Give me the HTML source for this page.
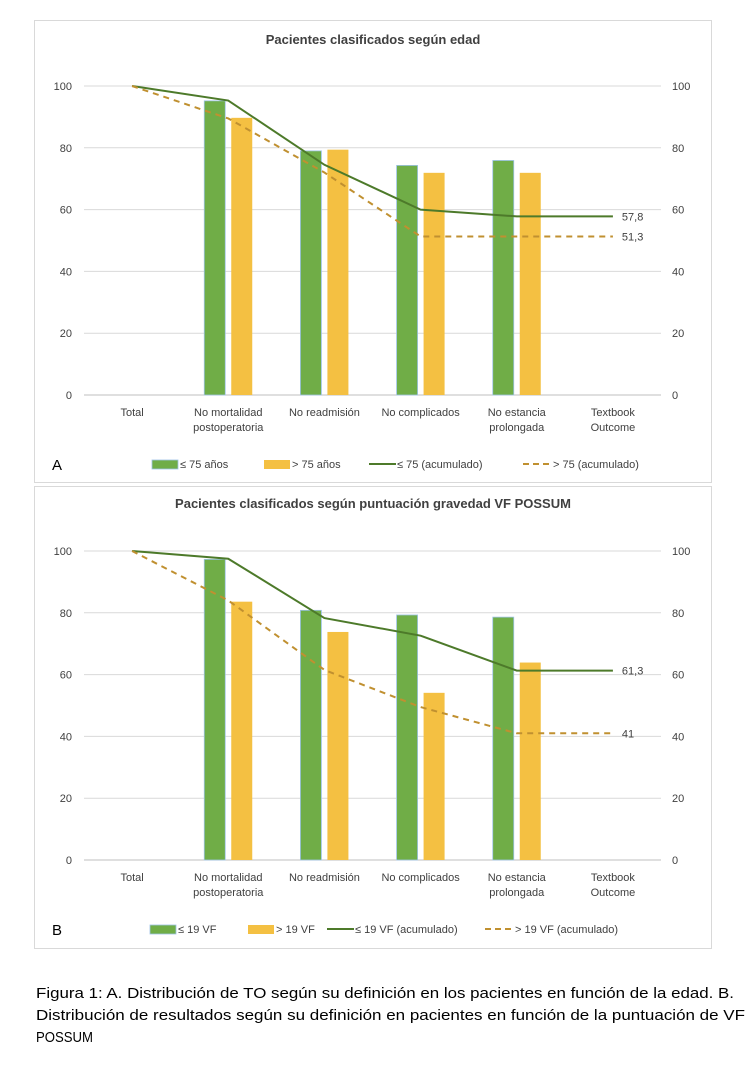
<!DOCTYPE html>
<html><head><meta charset="utf-8"><style>
body{margin:0;background:#fff;}
svg text{font-family:"Liberation Sans",sans-serif;}
</style></head><body>
<svg id="fig" width="750" height="1067" xmlns="http://www.w3.org/2000/svg">
<rect x="34.5" y="20.5" width="677" height="462" fill="#fff" stroke="#d9d9d9"/>
<rect x="34.5" y="486.5" width="677" height="462" fill="#fff" stroke="#d9d9d9"/>
<g font-size="15" fill="#000">
<text x="36" y="998" textLength="698" lengthAdjust="spacingAndGlyphs">Figura 1: A. Distribución de TO según su definición en los pacientes en función de la edad. B.</text>
<text x="36" y="1020" textLength="709" lengthAdjust="spacingAndGlyphs">Distribución de resultados según su definición en pacientes en función de la puntuación de VF</text>
<text x="36" y="1042" textLength="57" lengthAdjust="spacingAndGlyphs">POSSUM</text>
</g>
</svg>
<script>
const categories=["Total","No mortalidad|postoperatoria","No readmisión","No complicados","No estancia|prolongada","Textbook|Outcome"];
const yTicks=[0,20,40,60,80,100];
const aGreenBars=[null,95.2,79.0,74.3,75.9,null];
const aYellowBars=[null,89.7,79.4,71.9,71.9,null];
const aGreenLine=[100,95.3,74.5,60.0,57.8,57.8];
const aYellowLine=[100,89.5,72.0,51.3,51.3,51.3];
const bGreenBars=[null,97.3,80.8,79.3,78.6,null];
const bYellowBars=[null,83.6,73.8,54.1,63.9,null];
const bGreenLine=[100,97.5,78.3,72.6,61.3,61.3];
const bYellowLine=[100,84.0,61.5,49.5,41.0,41.0];
const NS="http://www.w3.org/2000/svg";
const svg=document.getElementById('fig');
function mk(tag,attrs,parent){const e=document.createElementNS(NS,tag);for(const k in attrs)e.setAttribute(k,attrs[k]);(parent||svg).appendChild(e);return e;}
function panel(p){
 const g=mk('g',{});
 
 
 const x0=84,x1=661,step=(x1-x0)/categories.length;
 const xc=i=>x0+step*(i+0.5);
 const y=v=>p.yBase-(v/100)*(p.yBase-p.yTop);
 const t=mk('text',{x:373,y:p.titleY,'text-anchor':'middle','font-size':13,'font-weight':'bold',fill:'#404040'},g);
 t.textContent=p.title;
 yTicks.forEach(v=>{
  const l=mk('line',{x1:x0,x2:x1,y1:y(v),y2:y(v),stroke:v===0?'#bfbfbf':'#d9d9d9'},g);
  
  const a=mk('text',{x:72,y:y(v)+4,'text-anchor':'end','font-size':11,fill:'#404040'},g);a.textContent=v;
  
  const b=mk('text',{x:672,y:y(v)+4,'font-size':11,fill:'#404040'},g);b.textContent=v;
  
 });
 categories.forEach((c,i)=>{
  c.split('|').forEach((s,j)=>{
   const tx=mk('text',{x:xc(i),y:p.yBase+21+j*15,'text-anchor':'middle','font-size':11,fill:'#404040'},g);tx.textContent=s;
   
  });
 });
 const bw=21;
 p.gb.forEach((v,i)=>{if(v==null)return;
  const r=mk('rect',{x:xc(i)-bw-3,y:y(v),width:bw,height:y(0)-y(v),fill:'#70ad47',stroke:'#9dc3e6','stroke-width':0.8},g);
  });
 p.yb.forEach((v,i)=>{if(v==null)return;
  const r=mk('rect',{x:xc(i)+3,y:y(v),width:bw,height:y(0)-y(v),fill:'#f4c042'},g);
  });
 const pts=a=>a.map((v,i)=>xc(i)+','+y(v)).join(' ');
 const l1=mk('polyline',{points:pts(p.gl),fill:'none',stroke:'#4d7a2a','stroke-width':2},g);
 
 const l2=mk('polyline',{points:pts(p.yl),fill:'none',stroke:'#c09030','stroke-width':2,'stroke-dasharray':'6,5'},g);
 
 const n=categories.length-1;
 const d1=mk('text',{x:xc(n)+9,y:y(p.gl[n])+4,'font-size':11,fill:'#404040'},g);d1.textContent=String(p.gl[n]).replace('.',',');
 
 const d2=mk('text',{x:xc(n)+9,y:y(p.yl[n])+4,'font-size':11,fill:'#404040'},g);d2.textContent=String(p.yl[n]).replace('.',',');
 
 const ly=p.legY;
 const pl=mk('text',{x:52,y:ly+6,'font-size':15,fill:'#000'},g);pl.textContent=p.letter;
 
 const lg=mk('g',{'font-size':11,fill:'#404040'},g);
 
 const L=p.leg;
 mk('rect',{x:L[0],y:ly-4,width:26,height:9,fill:'#70ad47',stroke:'#9dc3e6','stroke-width':0.8},lg);
 let e=mk('text',{x:L[0]+28,y:ly+4},lg);e.textContent=p.names[0];
 mk('rect',{x:L[1],y:ly-4,width:26,height:9,fill:'#f4c042'},lg);
 e=mk('text',{x:L[1]+28,y:ly+4},lg);e.textContent=p.names[1];
 mk('line',{x1:L[2],x2:L[2]+27,y1:ly,y2:ly,stroke:'#4d7a2a','stroke-width':2},lg);
 e=mk('text',{x:L[2]+28,y:ly+4},lg);e.textContent=p.names[2];
 mk('line',{x1:L[3],x2:L[3]+27,y1:ly,y2:ly,stroke:'#c09030','stroke-width':2,'stroke-dasharray':'6,4'},lg);
 e=mk('text',{x:L[3]+30,y:ly+4},lg);e.textContent=p.names[3];
}
panel({id:'chart-a',title:'Pacientes clasificados según edad',titleY:44,yTop:86,yBase:395,legY:464,letter:'A',
 gb:aGreenBars,yb:aYellowBars,gl:aGreenLine,yl:aYellowLine,leg:[152,264,369,523],
 names:['≤ 75 años','> 75 años','≤ 75 (acumulado)','> 75 (acumulado)']});
panel({id:'chart-b',title:'Pacientes clasificados según puntuación gravedad VF POSSUM',titleY:508,yTop:551,yBase:860,legY:929,letter:'B',
 gb:bGreenBars,yb:bYellowBars,gl:bGreenLine,yl:bYellowLine,leg:[150,248,327,485],
 names:['≤ 19 VF','> 19 VF','≤ 19 VF (acumulado)','> 19 VF (acumulado)']});
</script>
</body></html>
